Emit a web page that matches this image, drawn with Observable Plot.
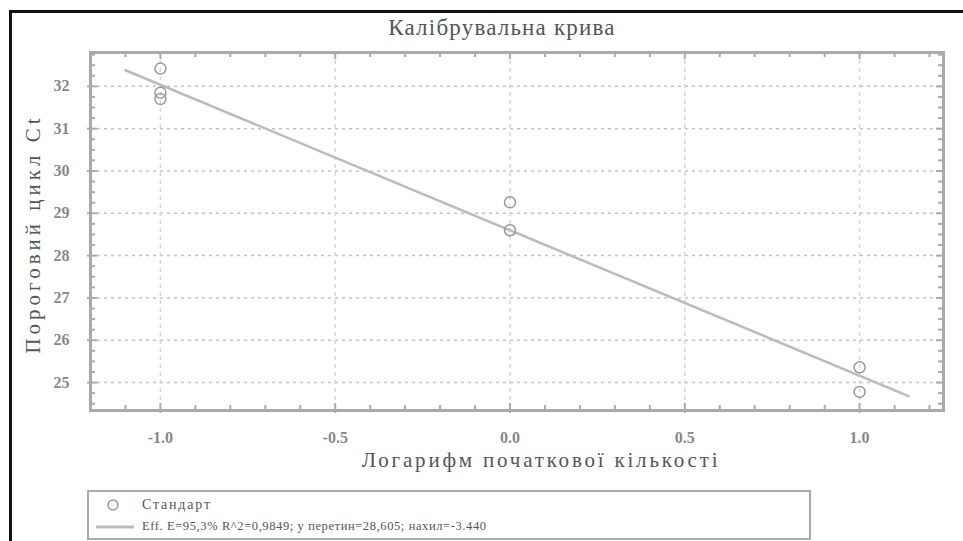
<!DOCTYPE html>
<html>
<head>
<meta charset="utf-8">
<script src="https://cdn.jsdelivr.net/npm/d3@7"></script>
<script src="https://cdn.jsdelivr.net/npm/@observablehq/plot@0.6"></script>
<style>
  html, body { margin: 0; padding: 0; background: #fff; overflow: hidden; }
  #wrap { position: relative; width: 963px; height: 541px; overflow: hidden; font-family: "Liberation Serif", "DejaVu Serif", serif; }
  #outer { position: absolute; left: 9px; top: 10px; width: 1100px; height: 700px; border-left: 3px solid #111; border-top: 3px solid #111; }
  #chart { position: absolute; left: 0; top: 0; }
  .lbl { position: absolute; color: #555; white-space: nowrap; }
  #title { left: 502px; top: 15px; transform: translateX(-50%); font-size: 23px; letter-spacing: 1.2px; }
  #xlabel { left: 541px; top: 448px; transform: translateX(-50%); font-size: 21px; letter-spacing: 2.8px; }
  #ylabel { left: 33px; top: 234px; font-size: 21px; letter-spacing: 4px; transform: translate(-50%, -50%) rotate(-90deg); }
  #legend { position: absolute; left: 87px; top: 490px; width: 720px; height: 46px; border: 2px solid #aaa; background: #fff; font-size: 12.5px; color: #555; }
  .row { position: absolute; left: 0; height: 20px; line-height: 20px; white-space: nowrap; }
</style>
</head>
<body>
<div id="wrap">
  <div id="outer"></div>
  <div id="chart"></div>
  <div class="lbl" id="title">Калібрувальна крива</div>
  <div class="lbl" id="ylabel">Пороговий цикл Ct</div>
  <div class="lbl" id="xlabel">Логарифм початкової кількості</div>
  <div id="legend">
    <div class="row" style="top:3px;">
      <svg width="50" height="20" style="position:absolute;left:0;top:0"><circle cx="24" cy="10" r="5" fill="none" stroke="#999" stroke-width="1.5"/></svg>
      <span style="position:absolute;left:53px;font-size:14px;letter-spacing:1.8px;">Стандарт</span>
    </div>
    <div class="row" style="top:24px;">
      <svg width="50" height="20" style="position:absolute;left:0;top:0"><line x1="7" x2="45" y1="11" y2="11" stroke="#bbb" stroke-width="3"/></svg>
      <span style="position:absolute;left:53px;letter-spacing:0.6px;">Eff. E=95,3% R^2=0,9849; y перетин=28,605; нахил=-3.440</span>
    </div>
  </div>
</div>
<script>
// Data
const logQty = [-1, -1, -1, 0, 0, 1, 1];
const ctValues = [32.42, 31.85, 31.7, 29.26, 28.6, 25.36, 24.78];

// Regression line endpoints as drawn
const fitX = [-1.1, 1.14];
const fitY = [32.38, 24.68];

// Axis ticks
const xTicks = [-1, -0.5, 0, 0.5, 1];
const xMinor = [-1.1, -0.9, -0.8, -0.7, -0.6, -0.4, -0.3, -0.2, -0.1, 0.1, 0.2, 0.3, 0.4, 0.6, 0.7, 0.8, 0.9, 1.1, 1.2];
const yTicks = [25, 26, 27, 28, 29, 30, 31, 32];
const yMinor = [24.5, 24.75, 25.25, 25.5, 25.75, 26.25, 26.5, 26.75, 27.25, 27.5, 27.75, 28.25, 28.5, 28.75, 29.25, 29.5, 29.75, 30.25, 30.5, 30.75, 31.25, 31.5, 31.75, 32.25, 32.5, 32.75];

const xDom = [-1.2, 1.24];
const yDom = [24.34, 32.8];

const points = logQty.map((x, i) => ({x, y: ctValues[i]}));
const fit = fitX.map((x, i) => ({x, y: fitY[i]}));

const dx = (xDom[1] - xDom[0]) / 853;
const dy = (yDom[1] - yDom[0]) / 358;

const serif = "Liberation Serif, DejaVu Serif, serif";

const plot = Plot.plot({
  width: 963,
  height: 541,
  marginLeft: 90,
  marginRight: 20,
  marginTop: 52,
  marginBottom: 131,
  style: {background: "transparent", fontFamily: serif, fontSize: "14px", color: "#555"},
  x: {domain: xDom, axis: null},
  y: {domain: yDom, axis: null},
  marks: [
    Plot.ruleY(yTicks, {stroke: "#c4c4c4", strokeWidth: 1.5, strokeDasharray: "3,4"}),
    Plot.ruleX(xTicks, {stroke: "#d6d6d6", strokeWidth: 1.5, strokeDasharray: "4,4"}),
    // minor ticks bottom/top
    Plot.ruleX(xMinor, {y1: yDom[0], y2: yDom[0] + 5 * dy, stroke: "#aaa", strokeWidth: 2}),
    Plot.ruleX(xMinor, {y1: yDom[1], y2: yDom[1] - 5 * dy, stroke: "#aaa", strokeWidth: 2}),
    Plot.ruleX(xTicks, {y1: yDom[0] - 3 * dy, y2: yDom[0] + 7 * dy, stroke: "#aaa", strokeWidth: 2}),
    Plot.ruleX(xTicks, {y1: yDom[1], y2: yDom[1] - 7 * dy, stroke: "#aaa", strokeWidth: 2}),
    // minor ticks left/right
    Plot.ruleY(yMinor, {x1: xDom[0], x2: xDom[0] + 5 * dx, stroke: "#aaa", strokeWidth: 2}),
    Plot.ruleY(yMinor, {x1: xDom[1], x2: xDom[1] - 5 * dx, stroke: "#aaa", strokeWidth: 2}),
    Plot.ruleY(yTicks, {x1: xDom[0] - 3 * dx, x2: xDom[0] + 7 * dx, stroke: "#aaa", strokeWidth: 2}),
    Plot.ruleY(yTicks, {x1: xDom[1], x2: xDom[1] - 7 * dx, stroke: "#aaa", strokeWidth: 2}),
    Plot.frame({stroke: "#aaa", strokeWidth: 3}),
    Plot.text(xTicks, {x: d => d, y: yDom[0], dy: 27, text: d => d.toFixed(1), fill: "#888", fontSize: 16, fontWeight: "bold", fontFamily: serif, style: {letterSpacing: "1px"}}),
    Plot.text(yTicks, {x: xDom[0], y: d => d, dx: -29, text: d => String(d), fill: "#888", fontSize: 16, fontWeight: "bold", fontFamily: serif}),
    Plot.line(fit, {x: "x", y: "y", stroke: "#bbb", strokeWidth: 2.5}),
    Plot.dot(points, {x: "x", y: "y", r: 5.5, stroke: "#999", strokeWidth: 1.5, fill: "none"})
  ]
});
plot.querySelectorAll("text").forEach(t => { t.style.fontFamily = serif; });
document.getElementById("chart").appendChild(plot);
</script>
</body>
</html>
